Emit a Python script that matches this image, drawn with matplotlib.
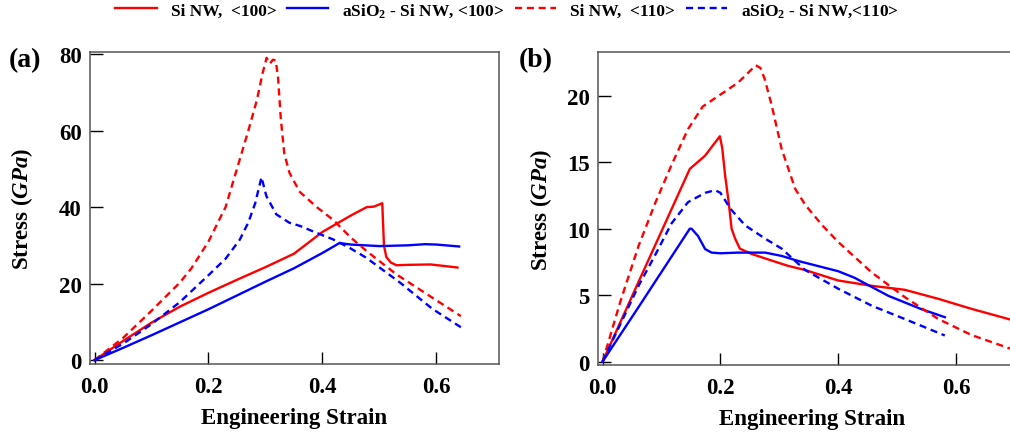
import matplotlib

matplotlib.use("Agg")
import matplotlib.pyplot as plt  # noqa: E402

plt.rcParams["font.family"] = ["Liberation Serif", "DejaVu Serif"]
plt.rcParams["font.weight"] = "bold"
plt.rcParams["mathtext.fontset"] = "custom"
plt.rcParams["mathtext.rm"] = "Liberation Serif:bold"
plt.rcParams["mathtext.bf"] = "Liberation Serif:bold"
plt.rcParams["mathtext.it"] = "Liberation Serif:italic:bold"

# (a) strain / stress (GPa)
a_si100_x = [0.0, 0.05, 0.1, 0.15, 0.2, 0.25, 0.3, 0.35, 0.4, 0.45, 0.478, 0.49, 0.505,
             0.508, 0.512, 0.52, 0.53, 0.55, 0.59, 0.62, 0.637]
a_si100_y = [0.0, 5.0, 9.8, 14.0, 17.6, 21.0, 24.3, 27.8, 33.5, 37.8, 40.0, 40.1, 41.0,
             30.0, 27.0, 25.5, 24.8, 24.9, 25.0, 24.5, 24.2]
a_ox100_x = [0.0, 0.05, 0.1, 0.2, 0.3, 0.35, 0.4, 0.43, 0.45, 0.5, 0.55, 0.58, 0.6, 0.64]
a_ox100_y = [0.0, 3.2, 6.5, 13.3, 20.5, 24.0, 28.0, 30.6, 30.2, 29.8, 30.0, 30.3, 30.2, 29.7]
a_si110_x = [0.0, 0.05, 0.1, 0.15, 0.17, 0.2, 0.23, 0.25, 0.27, 0.285, 0.295, 0.302, 0.308,
             0.313, 0.318, 0.322, 0.327, 0.333, 0.342, 0.36, 0.39, 0.42, 0.45, 0.48, 0.53,
             0.59, 0.643]
a_si110_y = [0.0, 5.8, 12.9, 20.3, 24.0, 31.0, 40.0, 50.0, 60.0, 68.0, 75.0, 79.0, 77.5,
             78.5, 78.3, 74.0, 63.0, 54.0, 49.0, 44.0, 40.0, 36.5, 32.0, 28.2, 22.4,
             16.6, 11.5]
a_ox110_x = [0.0, 0.05, 0.1, 0.15, 0.2, 0.23, 0.255, 0.27, 0.282, 0.293, 0.3015, 0.319,
             0.342, 0.36, 0.389, 0.418, 0.447, 0.4765, 0.535, 0.593, 0.643]
a_ox110_y = [0.0, 4.3, 9.4, 15.2, 22.2, 26.5, 31.5, 36.0, 41.0, 47.8, 42.9, 38.1, 35.9,
             35.1, 33.3, 31.6, 29.4, 26.8, 20.4, 13.4, 8.6]

# (b) strain / stress (GPa)
b_si100_x = [0.0, 0.061, 0.148, 0.174, 0.199, 0.203, 0.208, 0.214, 0.219, 0.225, 0.233,
             0.253, 0.287, 0.315, 0.343, 0.4, 0.457, 0.513, 0.57, 0.626, 0.689, 0.72]
b_si100_y = [0.0, 6.0, 14.5, 15.5, 16.96, 16.1, 14.0, 12.0, 10.0, 9.25, 8.5, 8.1, 7.6,
             7.2, 6.9, 6.1, 5.7, 5.4, 4.72, 3.97, 3.2, 2.8]
b_ox100_x = [0.0, 0.061, 0.148, 0.151, 0.162, 0.174, 0.185, 0.2, 0.23, 0.276, 0.304,
             0.332, 0.4, 0.428, 0.485, 0.542, 0.581]
b_ox100_y = [0.0, 4.1, 10.0, 10.0, 9.45, 8.47, 8.2, 8.15, 8.2, 8.2, 7.95, 7.57, 6.8,
             6.3, 4.95, 3.93, 3.34]
b_si110_x = [0.0, 0.03, 0.061, 0.089, 0.117, 0.145, 0.17, 0.2, 0.23, 0.26, 0.268, 0.275,
             0.287, 0.304, 0.327, 0.344, 0.372, 0.4, 0.457, 0.513, 0.57, 0.626, 0.7]
b_si110_y = [0.0, 4.5, 8.7, 11.9, 14.8, 17.5, 19.2, 20.1, 21.0, 22.3, 22.1, 21.3, 19.3,
             16.0, 13.0, 11.8, 10.3, 9.0, 6.7, 4.85, 3.2, 2.0, 0.85]
b_ox110_x = [0.0, 0.061, 0.089, 0.117, 0.145, 0.174, 0.191, 0.2, 0.217, 0.242, 0.276,
             0.304, 0.3435, 0.4, 0.457, 0.513, 0.581]
b_ox110_y = [0.0, 5.7, 8.0, 10.4, 12.0, 12.7, 12.9, 12.7, 11.5, 10.25, 9.25, 8.5, 6.9,
             5.48, 4.2, 3.2, 1.96]

labels = ["Si NW,  <100>", r"aSiO$_2$ - Si NW, <100>", "Si NW,  <110>", r"aSiO$_2$ - Si NW,<110>"]
colors = ["#ff0000", "#0000ff", "#ff0000", "#0000ff"]
dash = (0, (3, 2))
styles = ["-", "-", dash, dash]

fig = plt.figure(figsize=(10.1, 4.35), dpi=100)
ax_a = fig.add_axes([0.0891, 0.161, 0.405, 0.717])
ax_b = fig.add_axes([0.592, 0.159, 0.4245, 0.719])

panels = [
    (ax_a, 17, [(a_si100_x, a_si100_y), (a_ox100_x, a_ox100_y),
                (a_si110_x, a_si110_y), (a_ox110_x, a_ox110_y)]),
    (ax_b, 9, [(b_si100_x, b_si100_y), (b_ox100_x, b_ox100_y),
               (b_si110_x, b_si110_y), (b_ox110_x, b_ox110_y)]),
]

handles = []
for ax, ypad, curves in panels:
    handles = []
    for (x, y), c, ls, lab in zip(curves, colors, styles, labels):
        (h,) = ax.plot(x, y, color=c, linestyle=ls, lw=1.7, label=lab)
        handles.append(h)
    ax.set_xlabel("Engineering Strain", fontsize=16.5, fontweight="bold", labelpad=7)
    ax.set_ylabel(r"Stress ($\mathit{GPa}$)", fontsize=16.5, fontweight="bold", labelpad=ypad)
    ax.tick_params(direction="in", length=9, width=1, labelsize=16.5, top=False, right=False)
    ax.tick_params(axis="x", pad=9)
    ax.tick_params(axis="y", pad=6)
    for s in ax.spines.values():
        s.set_color("#555555")
        s.set_linewidth(1.1)
    ax.set_xticks([0.0, 0.2, 0.4, 0.6])
    ax.set_xticklabels(["0.0", "0.2", "0.4", "0.6"])

ax_a.set_xlim(-0.008, 0.71)
ax_a.set_ylim(-1.0, 80.5)
ax_a.set_yticks([0, 20, 40, 60, 80])
ax_b.set_xlim(-0.008, 0.72)
ax_b.set_ylim(-0.25, 23.3)
ax_b.set_yticks([0, 5, 10, 15, 20])

fig.text(9 / 1010, 1 - 61 / 435, "(a)", fontsize=20, fontweight="bold", va="center", ha="left")
fig.text(519 / 1010, 1 - 61 / 435, "(b)", fontsize=20, fontweight="bold", va="center", ha="left")

fig.legend(handles, labels, loc="center", bbox_to_anchor=(507 / 1010, 1 - 11 / 435), ncol=4,
           frameon=False, fontsize=12.5, handlelength=2.4, handletextpad=0.8, columnspacing=0.6,
           borderpad=0.0)

fig.savefig("out.png", dpi=100)
